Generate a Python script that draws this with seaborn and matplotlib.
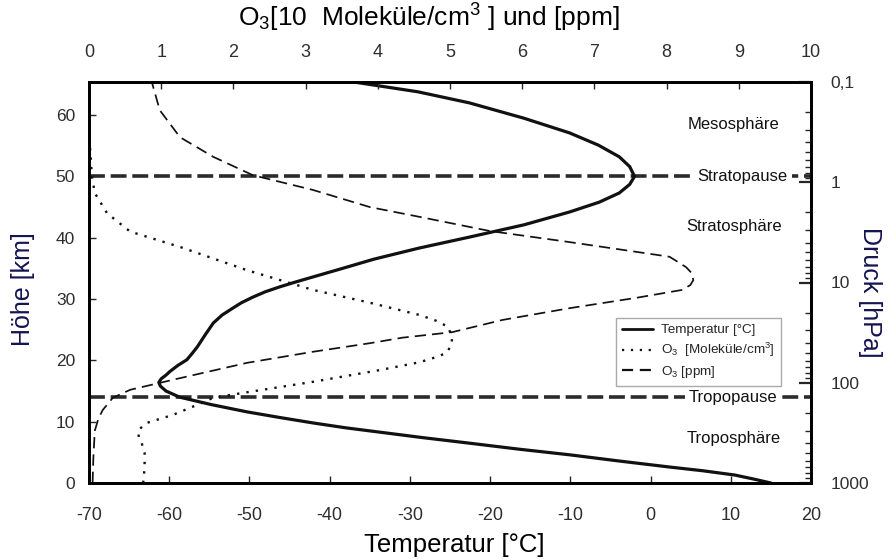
import matplotlib
matplotlib.use("Agg")
import matplotlib.pyplot as plt
from matplotlib.lines import Line2D
from matplotlib.ticker import FixedLocator, LogLocator, NullFormatter, FixedFormatter
import pandas as pd
import seaborn as sns

# --- Temperaturprofil: Höhe [km] / Temperatur [°C] ---
temp_height = [0.0, 0.6, 1.3, 2.0, 2.6, 3.6, 4.6, 5.5, 6.5, 7.4, 8.3, 9.0, 9.8,
               10.7, 11.6, 12.8, 14.0, 15.0, 15.8, 16.4, 17.0, 17.6, 18.2,
               19.2, 20.1, 21.2, 22.2, 24.2, 26.1, 27.4, 28.5, 29.4, 30.3,
               31.2, 32.0, 32.8, 33.6, 35.0, 36.5, 38.3, 40.1, 42.1, 44.2,
               45.8, 47.3, 48.7, 50.0, 51.6, 53.2, 55.1, 57.1, 59.5, 62.0,
               63.8, 65.4]
temp_values = [15.0, 13.0, 10.5, 6.5, 2.4, -4.0, -10.1, -16.3, -22.6, -28.4,
               -33.8, -38.0, -42.1, -46.3, -50.3, -54.8, -58.7, -60.4, -61.1,
               -61.3, -61.0, -60.4, -59.9, -58.9, -57.8, -57.1, -56.5, -55.5,
               -54.5, -53.4, -52.1, -51.0, -49.6, -48.0, -46.2, -44.2, -42.1,
               -38.4, -34.5, -28.9, -22.6, -15.8, -10.1, -6.4, -3.9, -2.6,
               -2.0, -2.6, -3.9, -6.5, -10.1, -15.8, -22.6, -29.0, -37.0]

# --- Ozon-Teilchendichte [10^12 Moleküle/cm³] ---
o3_dens_height = [0.0, 2.5, 4.9, 6.5, 7.5, 8.6, 9.8, 11.1, 12.7, 13.9, 14.8,
                  16.5, 18.4, 19.7, 20.5, 21.2, 22.5, 23.8, 25.5, 26.5, 27.4,
                  29.4, 31.5, 34.7, 38.5, 41.0, 44.0, 47.3, 50.0, 55.5, 65.4]
o3_dens_values = [0.75, 0.77, 0.77, 0.73, 0.69, 0.68, 0.80, 1.16, 1.49, 1.72,
                  2.19, 3.10, 4.02, 4.58, 4.80, 4.95, 5.02, 5.03, 4.97, 4.80,
                  4.58, 3.89, 3.10, 2.19, 1.26, 0.57, 0.25, 0.08, 0.04, 0.01,
                  0.0]

# --- Ozon-Mischungsverhältnis [ppm] ---
o3_ppm_height = [0.0, 4.0, 8.5, 10.5, 11.9, 13.9, 15.2, 16.3, 17.1, 19.6,
                 21.4, 22.8, 23.7, 24.6, 26.6, 28.5, 30.2, 31.5, 32.3, 33.1,
                 34.2, 35.2, 36.1, 36.9, 37.7, 39.3, 41.1, 43.4, 45.0, 47.8,
                 50.2, 53.2, 56.4, 60.8, 65.4]
o3_ppm_values = [0.05, 0.06, 0.08, 0.13, 0.19, 0.33, 0.57, 0.97, 1.26, 2.19,
                 3.10, 3.89, 4.34, 5.03, 5.73, 6.65, 7.58, 8.22, 8.33, 8.37,
                 8.35, 8.27, 8.15, 8.04, 7.58, 6.65, 5.55, 4.58, 3.89, 3.10,
                 2.27, 1.72, 1.26, 0.98, 0.87]

# Atmosphärische Schichten
layer_names = ["Mesosphäre", "Stratosphäre", "Troposphäre"]
layer_heights = [58.4, 41.9, 7.2]
pause_names = ["Stratopause", "Tropopause"]
pause_heights = [50.0, 14.0]

# Achsenbeschriftungen
temp_ticks = [-70, -60, -50, -40, -30, -20, -10, 0, 10, 20]
o3_ticks = list(range(0, 11))
height_ticks = [0, 10, 20, 30, 40, 50, 60]
pressure_ticks = [1000, 100, 10, 1, 0.1]
pressure_labels = ["1000", "100", "10", "1", "0,1"]

sns.set_style("ticks")
plt.rcParams["font.family"] = ["Liberation Sans", "DejaVu Sans"]
plt.rcParams["mathtext.fontset"] = "custom"
plt.rcParams["mathtext.rm"] = "Liberation Sans"
plt.rcParams["mathtext.it"] = "Liberation Sans:italic"
plt.rcParams["mathtext.bf"] = "Liberation Sans:bold"

fig = plt.figure(figsize=(8.92, 5.59), dpi=100)
ax = fig.add_axes([89 / 892, 1 - 483 / 559, 722 / 892, 401 / 559])
ax_top = ax.twiny()
ax_p = ax.twinx()

ink = "#111111"
tick_col = "#2e2e2e"
label_col = "#141450"

df_temp = pd.DataFrame({"h": temp_height, "T": temp_values})
df_dens = pd.DataFrame({"h": o3_dens_height, "v": o3_dens_values})
df_ppm = pd.DataFrame({"h": o3_ppm_height, "v": o3_ppm_values})

# Temperatur auf der unteren Achse
sns.lineplot(data=df_temp, x="T", y="h", sort=False, estimator=None, ax=ax,
             color=ink, lw=2.3, zorder=4)

# Tropopause / Stratopause
for h in pause_heights:
    ax.axhline(h, color="#2b2b2b", lw=2.6, dashes=(4.4, 1.6), zorder=3)

# Ozon auf der oberen Achse
sns.lineplot(data=df_dens, x="v", y="h", sort=False, estimator=None,
             ax=ax_top, color=ink, lw=1.7, zorder=4)
ax_top.lines[-1].set_dashes((1.0, 3.0))
sns.lineplot(data=df_ppm, x="v", y="h", sort=False, estimator=None,
             ax=ax_top, color=ink, lw=1.25, zorder=4)
ax_top.lines[-1].set_dashes((6.5, 3.5))

ax.set_xlim(-70, 20)
ax.set_ylim(0, 65.4)
ax_top.set_xlim(0, 10)
ax_top.set_ylim(0, 65.4)
ax_p.set_yscale("log")
ax_p.set_ylim(1000, 0.1)

# Schichtnamen
text_x = 10.4
for name, h in zip(layer_names, layer_heights):
    ax.text(text_x, h, name, ha="center", va="center", fontsize=12,
            color=ink, zorder=6)
ax.text(11.4, pause_heights[0], pause_names[0], ha="center", va="center",
        fontsize=12, color=ink, zorder=6,
        bbox=dict(fc="white", ec="none", pad=3.5))
ax.text(10.3, pause_heights[1], pause_names[1], ha="center", va="center",
        fontsize=12, color=ink, zorder=6,
        bbox=dict(fc="white", ec="none", pad=2.5))

# Achsen, Ticks
for a in (ax, ax_top, ax_p):
    for s in a.spines.values():
        s.set_linewidth(1.8)
        s.set_color("black")

ax.set_xticks(temp_ticks)
ax.set_xticklabels([str(t) for t in temp_ticks])
ax.set_yticks(height_ticks)
ax.tick_params(axis="x", direction="in", length=5, width=1.0, pad=17,
               labelsize=13, labelcolor=tick_col, top=False)
ax.tick_params(axis="y", direction="in", length=5, width=1.0, pad=10,
               labelsize=12.5, labelcolor=tick_col, right=False)

ax_top.set_xticks(o3_ticks)
ax_top.tick_params(axis="x", direction="in", length=5, width=1.0, pad=15,
                   labelsize=13, labelcolor=tick_col)

ax_p.yaxis.set_major_locator(FixedLocator(pressure_ticks))
ax_p.yaxis.set_major_formatter(FixedFormatter(pressure_labels))
ax_p.yaxis.set_minor_locator(LogLocator(base=10, subs=range(2, 10)))
ax_p.yaxis.set_minor_formatter(NullFormatter())
ax_p.tick_params(axis="y", which="major", direction="in", length=9, width=1.6,
                 pad=14, labelsize=12.5, labelcolor=tick_col)
ax_p.tick_params(axis="y", which="minor", direction="in", length=4, width=1.0)

ax.set_xlabel("")
ax.set_ylabel("")
ax_top.set_xlabel("")
ax_top.set_ylabel("")
ax_p.set_ylabel("")

# Achsentitel
fig.text(454 / 892, 1 - 545 / 559, "Temperatur [°C]", ha="center",
         va="center", fontsize=18.5, color="black")
fig.text(429 / 892, 1 - 18 / 559,
         "O$_3$[10  Moleküle/cm$^3$ ] und [ppm]", ha="center",
         va="center", fontsize=19, color="black")
fig.text(23 / 892, 1 - 289 / 559, "Höhe [km]", ha="center", va="center",
         rotation=90, fontsize=18, color=label_col)
fig.text(870 / 892, 1 - 292 / 559, "Druck [hPa]", ha="center", va="center",
         rotation=270, fontsize=18, color=label_col)

# Legende
handles = [
    Line2D([], [], color=ink, lw=2.0),
    Line2D([], [], color=ink, lw=1.6, dashes=(1.0, 3.0)),
    Line2D([], [], color=ink, lw=1.6, dashes=(5.0, 3.0)),
]
labels = ["Temperatur [°C]", "O$_3$  [Moleküle/cm$^3$]", "O$_3$ [ppm]"]
leg = ax_p.legend(handles, labels, loc="upper left",
                  bbox_to_anchor=(616 / 892, 1 - 318 / 559),
                  bbox_transform=fig.transFigure, fontsize=9.7,
                  frameon=True, fancybox=False, framealpha=1,
                  handlelength=2.3, handletextpad=0.6, labelspacing=0.35,
                  borderpad=0.45, borderaxespad=0)
leg.get_frame().set_edgecolor("#aaaaaa")
leg.get_frame().set_linewidth(1.0)

fig.savefig("out.png", dpi=100)
